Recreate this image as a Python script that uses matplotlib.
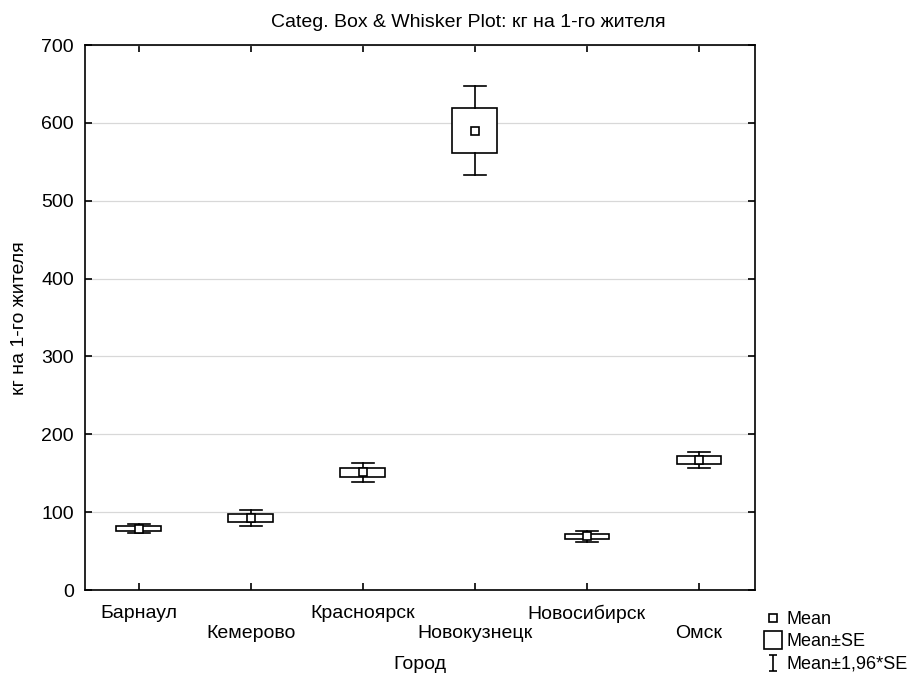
import matplotlib
matplotlib.use("Agg")
import matplotlib.pyplot as plt
from matplotlib.patches import Rectangle
from matplotlib.lines import Line2D
from matplotlib.path import Path

plt.rcParams['font.family'] = ['Liberation Sans', 'DejaVu Sans']

cities = ['Барнаул', 'Кемерово', 'Красноярск', 'Новокузнецк', 'Новосибирск', 'Омск']
means = [79, 93, 151, 590, 69, 167]
se = [3, 5.2, 6, 29, 3.5, 5.3]
yticks = [0, 100, 200, 300, 400, 500, 600, 700]

fig = plt.figure(figsize=(9.16, 6.75), dpi=100)
ax = fig.add_axes([0.0928, 0.1259, 0.7314, 0.8074])

box_w = 0.4
cap_w = 0.2
for i, (m, s) in enumerate(zip(means, se)):
    ax.add_patch(Rectangle((i - box_w / 2, m - s), box_w, 2 * s, facecolor='white',
                           edgecolor='black', linewidth=1.2, zorder=3))
    ax.plot([i, i], [m + s, m + 1.96 * s], color='black', lw=1.2, zorder=3)
    ax.plot([i, i], [m - s, m - 1.96 * s], color='black', lw=1.2, zorder=3)
    ax.plot([i - cap_w / 2, i + cap_w / 2], [m + 1.96 * s] * 2, color='black', lw=1.2, zorder=3)
    ax.plot([i - cap_w / 2, i + cap_w / 2], [m - 1.96 * s] * 2, color='black', lw=1.2, zorder=3)
    ax.plot([i], [m], marker='s', markersize=5.5, markerfacecolor='white',
            markeredgecolor='black', markeredgewidth=1.2, zorder=4)

ax.set_xlim(-0.48, 5.5)
ax.set_ylim(0, 700)
ax.set_yticks(yticks)
ax.set_yticklabels([str(v) for v in yticks], fontsize=14)
ax.set_xticks(range(len(cities)))
ax.set_xticklabels([])
for i, c in enumerate(cities):
    off = -15 if i % 2 == 0 else -35
    ax.annotate(c, xy=(i, 0), xycoords=('data', 'axes fraction'),
                xytext=(0, off * 0.72), textcoords='offset points',
                ha='center', va='top', fontsize=14, annotation_clip=False)
ax.grid(axis='y', color='#d8d8d8', linewidth=0.9, zorder=0)
ax.set_axisbelow(True)
ax.tick_params(direction='in', top=True, right=True, length=5, width=1.2)
ax.tick_params(axis='y', pad=8)
for sp in ax.spines.values():
    sp.set_linewidth(1.2)

fig.text(0.511, 0.967, 'Categ. Box & Whisker Plot: кг на 1-го жителя', ha='center', va='center', fontsize=14)
fig.text(0.458, 2 / 675, 'Город', ha='center', va='bottom', fontsize=14)
fig.text(0.021, 0.529, 'кг на 1-го жителя', rotation=90, ha='center', va='center', fontsize=14)

ibeam = Path([(-0.5, 1), (0.5, 1), (0, 1), (0, -1), (-0.5, -1), (0.5, -1)],
             [Path.MOVETO, Path.LINETO, Path.MOVETO, Path.LINETO, Path.MOVETO, Path.LINETO])
h1 = Line2D([], [], linestyle='none', marker='s', markersize=6, markerfacecolor='white',
            markeredgecolor='black', markeredgewidth=1.2)
h2 = Line2D([], [], linestyle='none', marker='s', markersize=13, markerfacecolor='white',
            markeredgecolor='black', markeredgewidth=1.2)
h3 = Line2D([], [], linestyle='none', marker=ibeam, markersize=12, markerfacecolor='none',
            markeredgecolor='black', markeredgewidth=1.2)
fig.legend([h1, h2, h3], ['Mean', 'Mean±SE', 'Mean±1,96*SE'], loc='center left',
           bbox_to_anchor=(0.825, 1 - 642 / 675), frameon=False, fontsize=13, handlelength=0.9,
           handletextpad=0.3, labelspacing=0.3, borderpad=0)

fig.savefig('out.png', dpi=100)
